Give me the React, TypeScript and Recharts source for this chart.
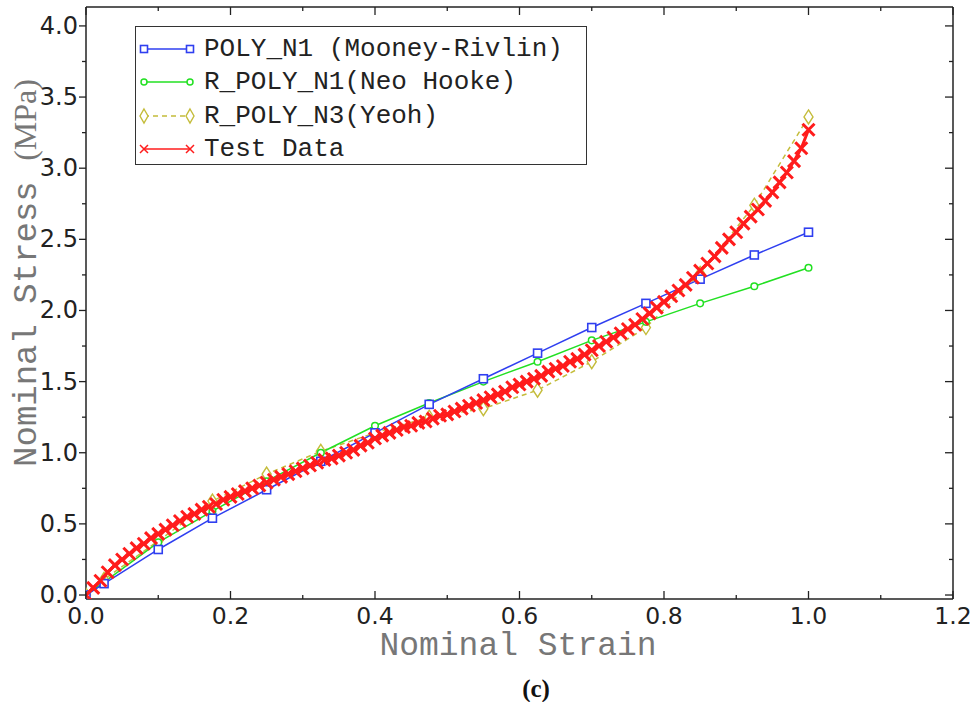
import React from "react";
import { LineChart, Line, XAxis, YAxis, Legend, Label, ReferenceLine } from "recharts";

// model curves are evaluated at the same strain levels
const strainModel = [0, 0.025, 0.1, 0.175, 0.25, 0.325, 0.4, 0.475, 0.55, 0.625, 0.7, 0.775, 0.85, 0.925, 1.0];
const polyN1 = [0, 0.08, 0.32, 0.54, 0.74, 0.94, 1.14, 1.34, 1.52, 1.7, 1.88, 2.05, 2.22, 2.39, 2.55];
const neoHooke = [0, 0.09, 0.37, 0.59, 0.8, 1.0, 1.19, 1.35, 1.5, 1.64, 1.79, 1.92, 2.05, 2.17, 2.3];
const yeoh = [0, 0.11, 0.38, 0.66, 0.85, 1.01, 1.14, 1.25, 1.31, 1.44, 1.64, 1.88, 2.26, 2.74, 3.36];

// test data, read along the red band
const testStrain = [
  0, 0.01, 0.02, 0.03, 0.04, 0.05, 0.06, 0.07, 0.08, 0.09,
  0.1, 0.11, 0.12, 0.13, 0.14, 0.15, 0.16, 0.17, 0.18, 0.19,
  0.2, 0.21, 0.22, 0.23, 0.24, 0.25, 0.26, 0.27, 0.28, 0.29,
  0.3, 0.31, 0.32, 0.33, 0.34, 0.35, 0.36, 0.37, 0.38, 0.39,
  0.4, 0.41, 0.42, 0.43, 0.44, 0.45, 0.46, 0.47, 0.48, 0.49,
  0.5, 0.51, 0.52, 0.53, 0.54, 0.55, 0.56, 0.57, 0.58, 0.59,
  0.6, 0.61, 0.62, 0.63, 0.64, 0.65, 0.66, 0.67, 0.68, 0.69,
  0.7, 0.71, 0.72, 0.73, 0.74, 0.75, 0.76, 0.77, 0.78, 0.79,
  0.8, 0.81, 0.82, 0.83, 0.84, 0.85, 0.86, 0.87, 0.88, 0.89,
  0.9, 0.91, 0.92, 0.93, 0.94, 0.95, 0.96, 0.97, 0.98, 0.99, 1.0,
];
const testStress = [
  0, 0.05, 0.1, 0.16, 0.21, 0.25, 0.29, 0.33, 0.36, 0.4,
  0.43, 0.46, 0.49, 0.52, 0.55, 0.57, 0.6, 0.62, 0.64, 0.67,
  0.69, 0.71, 0.73, 0.75, 0.77, 0.79, 0.81, 0.83, 0.85, 0.87,
  0.89, 0.91, 0.93, 0.95, 0.96, 0.98, 1.0, 1.02, 1.05, 1.07,
  1.1, 1.12, 1.14, 1.16, 1.18, 1.19, 1.21, 1.22, 1.24, 1.26,
  1.27, 1.29, 1.31, 1.33, 1.35, 1.37, 1.39, 1.41, 1.43, 1.46,
  1.48, 1.5, 1.52, 1.54, 1.57, 1.59, 1.61, 1.64, 1.66, 1.69,
  1.72, 1.75, 1.78, 1.81, 1.84, 1.87, 1.9, 1.94, 1.98, 2.02,
  2.06, 2.1, 2.14, 2.18, 2.23, 2.28, 2.33, 2.38, 2.44, 2.5,
  2.55, 2.61, 2.66, 2.71, 2.77, 2.83, 2.9, 2.97, 3.05, 3.14, 3.27,
];

const xTicks = [0, 0.1, 0.2, 0.3, 0.4, 0.5, 0.6, 0.7, 0.8, 0.9, 1.0, 1.1, 1.2];
const yTicks = [0, 0.25, 0.5, 0.75, 1.0, 1.25, 1.5, 1.75, 2.0, 2.25, 2.5, 2.75, 3.0, 3.25, 3.5, 3.75, 4.0];
const X_MAX = 1.2;
const Y_MIN = -0.028;
const Y_MAX = 4.133;

const BLUE = "#2f3ff0";
const GREEN = "#22e022";
const YELLOW = "#c4bc3a";
const RED = "#ff1c1c";
const AXIS = "#222";
const MONO = "'Liberation Mono', 'DejaVu Sans Mono', monospace";
const TICK_FONT = "'DejaVu Sans', Verdana, sans-serif";

// plot frame edges (chart margins below put the plot box here)
const PLOT_TOP = 7;
const PLOT_RIGHT = 953;

const toPoints = (xs: number[], ys: number[]) => xs.map((x, i) => ({ x, y: ys[i] }));

const polyData = toPoints(strainModel, polyN1);
const neoData = toPoints(strainModel, neoHooke);
const yeohData = toPoints(strainModel, yeoh);
const testData = toPoints(testStrain, testStress);

const isMajorX = (v: number) => Math.round(v * 10) % 2 === 0;
const isMajorY = (v: number) => Math.round(v * 4) % 2 === 0;

// bottom tick: inward tick + label, plus the mirrored tick on the top frame
const BottomTick = (props: any) => {
  const { x, y, payload } = props;
  const major = isMajorX(payload.value);
  const len = major ? 8 : 4;
  return (
    <g>
      <line x1={x} x2={x} y1={y} y2={y - len} stroke={AXIS} strokeWidth={1.3} />
      <line x1={x} x2={x} y1={PLOT_TOP} y2={PLOT_TOP + len} stroke={AXIS} strokeWidth={1.3} />
      {major && (
        <text x={x} y={y + 25} textAnchor="middle" fontFamily={TICK_FONT} fontSize={23.5} fill={AXIS}>
          {payload.value.toFixed(1)}
        </text>
      )}
    </g>
  );
};

// left tick: outward tick + label, plus the inward tick on the right frame
const LeftTick = (props: any) => {
  const { x, y, payload } = props;
  const major = isMajorY(payload.value);
  return (
    <g>
      <line x1={x} x2={x - (major ? 7 : 4)} y1={y} y2={y} stroke={AXIS} strokeWidth={1.3} />
      <line x1={PLOT_RIGHT} x2={PLOT_RIGHT - (major ? 8 : 4)} y1={y} y2={y} stroke={AXIS} strokeWidth={1.3} />
      {major && (
        <text x={x - 8} y={y + 8} textAnchor="end" fontFamily={TICK_FONT} fontSize={24} fill={AXIS}>
          {payload.value.toFixed(1)}
        </text>
      )}
    </g>
  );
};

const SquareDot = (props: any) => {
  const { cx, cy, index } = props;
  if (cx == null || cy == null) return <g key={`s${index}`} />;
  return <rect key={`s${index}`} x={cx - 4} y={cy - 4} width={8} height={8} fill="#fff" stroke={BLUE} strokeWidth={1.6} />;
};

const CircleDot = (props: any) => {
  const { cx, cy, index } = props;
  if (cx == null || cy == null) return <g key={`c${index}`} />;
  return <circle key={`c${index}`} cx={cx} cy={cy} r={3.3} fill="#fff" stroke={GREEN} strokeWidth={1.5} />;
};

const DiamondDot = (props: any) => {
  const { cx, cy, index } = props;
  if (cx == null || cy == null) return <g key={`d${index}`} />;
  return (
    <path
      key={`d${index}`}
      d={`M${cx},${cy - 7} L${cx + 4.5},${cy} L${cx},${cy + 7} L${cx - 4.5},${cy} Z`}
      fill="#fff"
      stroke={YELLOW}
      strokeWidth={1.4}
    />
  );
};

const CrossDot = (props: any) => {
  const { cx, cy, index } = props;
  if (cx == null || cy == null) return <g key={`x${index}`} />;
  const s = 6;
  return (
    <path
      key={`x${index}`}
      d={`M${cx - s},${cy - s} L${cx + s},${cy + s} M${cx - s},${cy + s} L${cx + s},${cy - s}`}
      stroke={RED}
      strokeWidth={3}
    />
  );
};

const legendItems = [
  { name: "POLY_N1 (Mooney-Rivlin)", color: BLUE, kind: "square" },
  { name: "R_POLY_N1(Neo Hooke)", color: GREEN, kind: "circle" },
  { name: "R_POLY_N3(Yeoh)", color: YELLOW, kind: "diamond" },
  { name: "Test Data", color: RED, kind: "cross" },
];

const LegendMarker = ({ kind, color, cx }: { kind: string; color: string; cx: number }) => {
  const cy = 10;
  if (kind === "square") return <rect x={cx - 3.5} y={cy - 3.5} width={7} height={7} fill="#fff" stroke={color} strokeWidth={1.6} />;
  if (kind === "circle") return <circle cx={cx} cy={cy} r={3} fill="#fff" stroke={color} strokeWidth={1.5} />;
  if (kind === "diamond")
    return <path d={`M${cx},${cy - 7} L${cx + 4},${cy} L${cx},${cy + 7} L${cx - 4},${cy} Z`} fill="#fff" stroke={color} strokeWidth={1.4} />;
  return <path d={`M${cx - 4},${cy - 4} L${cx + 4},${cy + 4} M${cx - 4},${cy + 4} L${cx + 4},${cy - 4}`} stroke={color} strokeWidth={1.5} />;
};

const renderLegend = () => (
  <div
    style={{
      boxSizing: "border-box",
      width: 452,
      height: 139,
      border: "1.5px solid #333",
      background: "#fff",
      paddingTop: 5,
    }}
  >
    {legendItems.map((item) => (
      <div key={item.name} style={{ display: "flex", alignItems: "center", height: 33.5 }}>
        <svg width={66} height={20} style={{ marginLeft: 2 }}>
          <line
            x1={6}
            x2={52}
            y1={10}
            y2={10}
            stroke={item.color}
            strokeWidth={1.5}
            strokeDasharray={item.kind === "diamond" ? "5 4" : undefined}
          />
          <LegendMarker kind={item.kind} color={item.color} cx={6} />
          <LegendMarker kind={item.kind} color={item.color} cx={52} />
        </svg>
        <span style={{ fontFamily: MONO, fontSize: 26, color: "#222", whiteSpace: "pre", lineHeight: "26px" }}>
          {item.name}
        </span>
      </div>
    ))}
  </div>
);

const XTitle = () => (
  <g>
    <text x={518} y={655} textAnchor="middle" fontFamily={MONO} fontSize={33} fill="#777">
      Nominal Strain
    </text>
    <text x={536} y={697} textAnchor="middle" fontFamily="'Liberation Serif', 'Times New Roman', serif" fontWeight="bold" fontSize={25} fill="#111">
      (c)
    </text>
  </g>
);

const YTitle = () => (
  <text transform="translate(36, 273) rotate(-90)" textAnchor="middle" fontSize={34} fill="#777">
    <tspan fontFamily={MONO}>Nominal Stress </tspan>
    <tspan fontFamily="'Liberation Serif', 'Times New Roman', serif" fontSize={32}>(MPa)</tspan>
  </text>
);

export default function App() {
  return (
    <div style={{ position: "absolute", left: 0, top: 0, width: 976, height: 702, background: "#fff" }}>
      <LineChart width={976} height={702} margin={{ top: PLOT_TOP, right: 976 - PLOT_RIGHT, bottom: 63, left: 26 }}>
        <XAxis
          dataKey="x"
          type="number"
          domain={[0, X_MAX]}
          ticks={xTicks}
          interval={0}
          allowDataOverflow
          height={40}
          tickSize={0}
          tickMargin={0}
          tick={BottomTick}
          axisLine={{ stroke: AXIS, strokeWidth: 1.5 }}
          tickLine={false}
        >
          <Label content={XTitle} />
        </XAxis>
        <YAxis
          type="number"
          domain={[Y_MIN, Y_MAX]}
          ticks={yTicks}
          interval={0}
          allowDataOverflow
          width={60}
          tickSize={0}
          tickMargin={0}
          tick={LeftTick}
          axisLine={{ stroke: AXIS, strokeWidth: 1.5 }}
          tickLine={false}
        >
          <Label content={YTitle} />
        </YAxis>
        <ReferenceLine x={X_MAX} stroke={AXIS} strokeWidth={1.5} />
        <ReferenceLine y={Y_MAX} stroke={AXIS} strokeWidth={1.5} />
        <Legend
          layout="vertical"
          align="center"
          verticalAlign="middle"
          wrapperStyle={{ left: 135, top: 26, width: 452, height: 139 }}
          content={renderLegend}
        />
        <Line
          data={yeohData}
          dataKey="y"
          name="R_POLY_N3(Yeoh)"
          stroke={YELLOW}
          strokeWidth={1.5}
          strokeDasharray="5 4"
          dot={DiamondDot}
          activeDot={false}
          isAnimationActive={false}
        />
        <Line
          data={neoData}
          dataKey="y"
          name="R_POLY_N1(Neo Hooke)"
          stroke={GREEN}
          strokeWidth={1.5}
          dot={CircleDot}
          activeDot={false}
          isAnimationActive={false}
        />
        <Line
          data={polyData}
          dataKey="y"
          name="POLY_N1 (Mooney-Rivlin)"
          stroke={BLUE}
          strokeWidth={1.5}
          dot={SquareDot}
          activeDot={false}
          isAnimationActive={false}
        />
        <Line
          data={testData}
          dataKey="y"
          name="Test Data"
          stroke={RED}
          strokeWidth={3}
          dot={CrossDot}
          activeDot={false}
          isAnimationActive={false}
        />
      </LineChart>
    </div>
  );
}
